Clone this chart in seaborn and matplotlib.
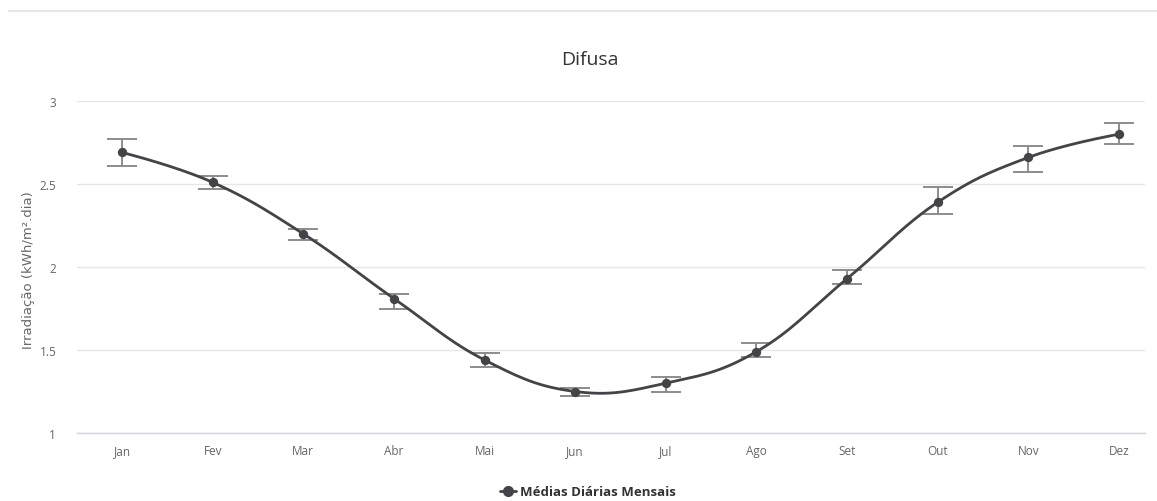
import numpy as np
import pandas as pd
import matplotlib
matplotlib.use("Agg")
import matplotlib.pyplot as plt
from matplotlib.lines import Line2D
import seaborn as sns

meses = ["Jan", "Fev", "Mar", "Abr", "Mai", "Jun", "Jul", "Ago", "Set", "Out", "Nov", "Dez"]
media = [2.69, 2.51, 2.20, 1.81, 1.44, 1.25, 1.30, 1.49, 1.93, 2.39, 2.66, 2.80]
erro_inf = [2.61, 2.47, 2.16, 1.75, 1.40, 1.22, 1.25, 1.46, 1.90, 2.32, 2.57, 2.74]
erro_sup = [2.77, 2.55, 2.23, 1.84, 1.48, 1.27, 1.34, 1.54, 1.98, 2.48, 2.73, 2.87]
yticks = [1, 1.5, 2, 2.5, 3]

df = pd.DataFrame({"mes": meses, "media": media, "inf": erro_inf, "sup": erro_sup})
df["x"] = np.arange(len(meses))

sns.set_theme(style="white")
plt.rcParams["font.family"] = ["Open Sans", "DejaVu Sans"]

W, H = 1157, 502
fig = plt.figure(figsize=(W / 100, H / 100), dpi=100)
ax = fig.add_axes([77 / W, (H - 434) / H, (1145 - 77) / W, (434 - 102) / H])


def spline_path(xs, ys, smoothing=1.5, n=30):
    """Bezier spline through the points, in the style of a Highcharts spline."""
    px, py = [], []
    for i in range(len(xs) - 1):
        x0, y0 = xs[i], ys[i]
        x1, y1 = xs[i + 1], ys[i + 1]
        if i > 0:
            xp, yp = xs[i - 1], ys[i - 1]
            lx = (smoothing * x0 + xp) / (smoothing + 1)
            ly = (smoothing * y0 + yp) / (smoothing + 1)
            rx = (smoothing * x0 + x1) / (smoothing + 1)
            ry = (smoothing * y0 + y1) / (smoothing + 1)
            cor = ((ry - ly) * (rx - x0)) / (rx - lx) + y0 - ry if rx != lx else 0
            c1x, c1y = rx, ry + cor
        else:
            c1x, c1y = x0, y0
        if i + 1 < len(xs) - 1:
            xn, yn = xs[i + 2], ys[i + 2]
            lx = (smoothing * x1 + x0) / (smoothing + 1)
            ly = (smoothing * y1 + y0) / (smoothing + 1)
            rx = (smoothing * x1 + xn) / (smoothing + 1)
            ry = (smoothing * y1 + yn) / (smoothing + 1)
            cor = ((ry - ly) * (lx - x1)) / (rx - lx) + y1 - ly if rx != lx else 0
            c2x, c2y = lx, ly + cor
        else:
            c2x, c2y = x1, y1
        t = np.linspace(0, 1, n, endpoint=(i == len(xs) - 2))
        bx = (1 - t) ** 3 * x0 + 3 * (1 - t) ** 2 * t * c1x + 3 * (1 - t) * t ** 2 * c2x + t ** 3 * x1
        by = (1 - t) ** 3 * y0 + 3 * (1 - t) ** 2 * t * c1y + 3 * (1 - t) * t ** 2 * c2y + t ** 3 * y1
        px.extend(bx)
        py.extend(by)
    return np.array(px), np.array(py)


linha_cor = "#434348"
erro_cor = "#8c8c8c"

# error bars
ax.errorbar(df["x"], df["media"],
            yerr=[df["media"] - df["inf"], df["sup"] - df["media"]],
            fmt="none", ecolor=erro_cor, elinewidth=1.4, capsize=11, capthick=1.4, zorder=2)

# smoothed series
sx, sy = spline_path(df["x"].to_numpy(float), df["media"].to_numpy(float))
ax.plot(sx, sy, color=linha_cor, lw=2, zorder=3, solid_capstyle="round")
sns.scatterplot(data=df, x="x", y="media", ax=ax, color=linha_cor, s=45,
                edgecolor=linha_cor, linewidth=0, zorder=4, legend=False)

ax.set_xlim(-0.4965, 11.287)
ax.set_ylim(1, 3)
ax.set_xticks(df["x"])
ax.set_xticklabels(meses)
ax.set_yticks(yticks)
ax.set_yticklabels([f"{v:g}" for v in yticks])
ax.tick_params(axis="both", length=0, labelsize=8.5, labelcolor="#666666")
ax.tick_params(axis="x", pad=8)
ax.tick_params(axis="y", pad=15)
ax.yaxis.grid(True, color="#e6e6e6", lw=1)
ax.xaxis.grid(False)
for s in ["top", "right", "left"]:
    ax.spines[s].set_visible(False)
ax.spines["bottom"].set_color("#ccd6eb")
ax.spines["bottom"].set_linewidth(1)
ax.set_xlabel("")
ax.set_ylabel("")
fig.text(29 / W, 1 - 270 / H, "Irradiação (kWh/m².dia)", rotation=90, ha="center", va="center",
         color="#666666", fontsize=9.5, family=["DejaVu Sans"])

fig.text(590 / W, 1 - 60 / H, "Difusa", ha="center", va="center", fontsize=14, color="#333333")

# container border at top
fig.add_artist(Line2D([9 / W, 1], [1 - 12 / H, 1 - 12 / H], transform=fig.transFigure,
                      color="#e6e6e6", lw=1.5))

handle = Line2D([], [], color=linha_cor, lw=2, marker="o", markersize=7)
fig.legend([handle], ["Médias Diárias Mensais"], loc="center", bbox_to_anchor=(588 / W, 1 - 493 / H),
           frameon=False, handlelength=1.2, handletextpad=0.35,
           prop={"weight": "bold", "size": 9.5}, labelcolor="#333333")

fig.savefig("out.png", dpi=100, facecolor="white")
